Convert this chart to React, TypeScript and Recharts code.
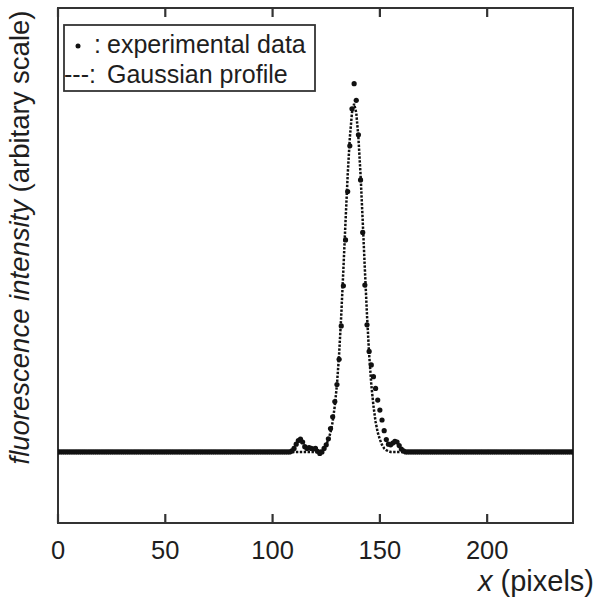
import {
  ComposedChart,
  Line,
  ReferenceArea,
  Scatter,
  XAxis,
  YAxis,
} from 'recharts';

// x positions in pixels, one sample per pixel (0..240)
const xTicks = [0, 50, 100, 150, 200];

// experimental data, index = x (pixels)
const expValues = [
  0, 0, 0, 0, 0, 0, 0, 0, 0, 0,
  0, 0, 0, 0, 0, 0, 0, 0, 0, 0,
  0, 0, 0, 0, 0, 0, 0, 0, 0, 0,
  0, 0, 0, 0, 0, 0, 0, 0, 0, 0,
  0, 0, 0, 0, 0, 0, 0, 0, 0, 0,
  0, 0, 0, 0, 0, 0, 0, 0, 0, 0,
  0, 0, 0, 0, 0, 0, 0, 0, 0, 0,
  0, 0, 0, 0, 0, 0, 0, 0, 0, 0,
  0, 0, 0, 0, 0, 0, 0, 0, 0, 0,
  0, 0, 0, 0, 0, 0, 0, 0, 0, 0,
  0, 0, 0, 0, 0, 0, 0, 0, 0, 0.003,
  0.01, 0.022, 0.032, 0.036, 0.028, 0.015, 0.01, 0.012, 0.01, 0.008,
  0.01, 0.002, -0.004, 0, 0.01, 0.02, 0.037, 0.066, 0.099, 0.142,
  0.19, 0.261, 0.355, 0.468, 0.597, 0.733, 0.862, 0.966, 1.037, 0.99,
  0.893, 0.766, 0.618, 0.47, 0.358, 0.283, 0.245, 0.212, 0.179, 0.146,
  0.118, 0.09, 0.06, 0.035, 0.022, 0.02, 0.025, 0.03, 0.028, 0.018,
  0.008, 0.003, 0, 0, 0, 0, 0, 0, 0, 0,
  0, 0, 0, 0, 0, 0, 0, 0, 0, 0,
  0, 0, 0, 0, 0, 0, 0, 0, 0, 0,
  0, 0, 0, 0, 0, 0, 0, 0, 0, 0,
  0, 0, 0, 0, 0, 0, 0, 0, 0, 0,
  0, 0, 0, 0, 0, 0, 0, 0, 0, 0,
  0, 0, 0, 0, 0, 0, 0, 0, 0, 0,
  0, 0, 0, 0, 0, 0, 0, 0, 0, 0,
  0,
];

// fitted gaussian profile
const gaussX = [
  0, 121, 122, 123, 124, 125, 126, 127, 128, 129, 130, 131, 132, 133, 134, 135,
  136, 137, 138, 139, 140, 141, 142, 143, 144, 145, 146, 147, 148, 149, 150,
  151, 152, 153, 154, 155, 240,
];
const gaussY = [
  0, 0, 0.002, 0.005, 0.01, 0.02, 0.035, 0.055, 0.085, 0.13, 0.19, 0.275, 0.385,
  0.515, 0.65, 0.78, 0.885, 0.955, 0.98, 0.955, 0.885, 0.78, 0.65, 0.515, 0.385,
  0.275, 0.19, 0.13, 0.085, 0.055, 0.035, 0.02, 0.01, 0.005, 0.002, 0, 0,
];

const expData = expValues.map((y, i) => ({ x: i, y }));
const gaussData = gaussX.map((x, i) => ({ x, y: gaussY[i] }));

const FONT = '"Liberation Sans", Arial, Helvetica, sans-serif';
const INK = '#1e1e1e';

// ticks point inward from the frame
const BottomTick = ({ x, y, payload }: any) => (
  <g>
    <line x1={x} x2={x} y1={y} y2={y - 9} stroke='#333' strokeWidth={2.2} />
    <text
      x={x}
      y={y + 36}
      textAnchor='middle'
      fontFamily={FONT}
      fontSize={25.5}
      fill={INK}
    >
      {payload.value}
    </text>
  </g>
);

const TopTick = ({ x, y }: any) => (
  <line x1={x} x2={x} y1={y} y2={y + 9} stroke='#333' strokeWidth={2.2} />
);

const Dot = ({ cx, cy }: any) => <circle cx={cx} cy={cy} r={2.6} fill='#111' />;

const App = () => {
  return (
    <div style={{ position: 'absolute', left: 0, top: 0, width: 595, height: 597 }}>
      <ComposedChart
        width={595}
        height={597}
        margin={{ top: 7, right: 22, bottom: 73, left: 58 }}
      >
        <XAxis
          xAxisId='b'
          dataKey='x'
          type='number'
          domain={[0, 240]}
          ticks={xTicks}
          allowDataOverflow
          height={1}
          axisLine={false}
          tickLine={false}
          tickSize={0}
          tickMargin={0}
          tick={<BottomTick />}
        />
        <XAxis
          xAxisId='t'
          orientation='top'
          dataKey='x'
          type='number'
          domain={[0, 240]}
          ticks={xTicks}
          allowDataOverflow
          height={1}
          axisLine={false}
          tickLine={false}
          tickSize={0}
          tickMargin={0}
          tick={<TopTick />}
        />
        <YAxis type='number' domain={[-0.2, 1.25]} allowDataOverflow hide />

        {/* frame */}
        <ReferenceArea
          xAxisId='b'
          x1={0}
          x2={240}
          y1={-0.2}
          y2={1.25}
          fill='none'
          fillOpacity={0}
          stroke='#333'
          strokeWidth={2}
        />

        <Scatter
          xAxisId='b'
          data={expData}
          dataKey='y'
          shape={<Dot />}
          isAnimationActive={false}
        />
        <Line
          xAxisId='b'
          data={gaussData}
          dataKey='y'
          type='linear'
          stroke='#111'
          strokeWidth={2.5}
          strokeDasharray='2.4 1.5'
          dot={false}
          activeDot={false}
          isAnimationActive={false}
        />
      </ComposedChart>

      {/* labels + legend */}
      <svg
        width={595}
        height={597}
        style={{ position: 'absolute', left: 0, top: 0, pointerEvents: 'none' }}
      >
        <text
          transform='translate(28.5,237.5) rotate(-90)'
          textAnchor='middle'
          fontFamily={FONT}
          fontSize={27.5}
          fill={INK}
        >
          <tspan fontStyle='italic'>fluorescence intensity</tspan> (arbitary scale)
        </text>
        <text
          x={594}
          y={591}
          textAnchor='end'
          fontFamily={FONT}
          fontSize={29}
          fill={INK}
        >
          <tspan fontStyle='italic'>x</tspan> (pixels)
        </text>

        <rect x={64} y={25} width={251} height={66} fill='#fff' stroke='#333' strokeWidth={1.8} />
        <circle cx={78} cy={46} r={2.5} fill='#111' />
        <text x={94} y={53} fontFamily={FONT} fontSize={25} fill={INK}>:</text>
        <text x={107} y={53} fontFamily={FONT} fontSize={25} fill={INK}>
          experimental data
        </text>
        <text x={64} y={83} fontFamily={FONT} fontSize={25} fill={INK}>---:</text>
        <text x={107} y={83} fontFamily={FONT} fontSize={25} fill={INK}>
          Gaussian profile
        </text>
      </svg>
    </div>
  );
};

export default App;
